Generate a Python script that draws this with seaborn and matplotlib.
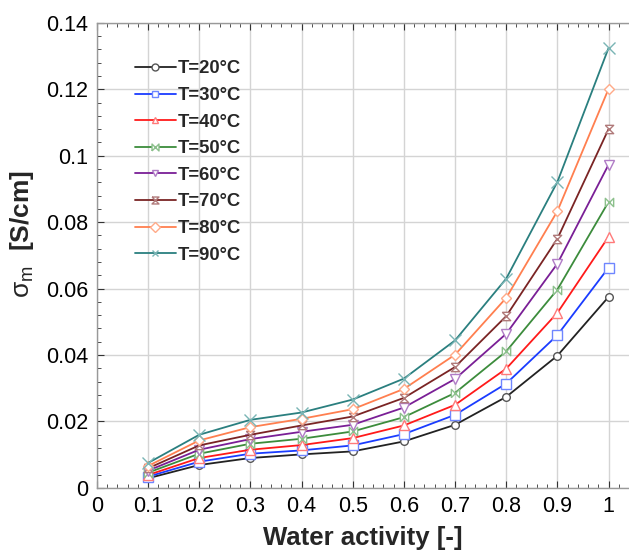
import numpy as np
import pandas as pd
import seaborn as sns
import matplotlib
matplotlib.use("Agg")
import matplotlib.pyplot as plt
from matplotlib.ticker import AutoMinorLocator

# ---- data ----
aw = [0.1, 0.2, 0.3, 0.4, 0.5, 0.6, 0.7, 0.8, 0.9, 1.0]
temps = ["T=20°C", "T=30°C", "T=40°C", "T=50°C", "T=60°C", "T=70°C", "T=80°C", "T=90°C"]
s20 = [0.0029, 0.0069, 0.0090, 0.0101, 0.0110, 0.0140, 0.0190, 0.0274, 0.0398, 0.0575]
s30 = [0.0034, 0.0079, 0.0103, 0.0113, 0.0128, 0.0162, 0.0220, 0.0314, 0.0460, 0.0663]
s40 = [0.0039, 0.0090, 0.0115, 0.0129, 0.0150, 0.0188, 0.0250, 0.0359, 0.0527, 0.0756]
s50 = [0.0046, 0.0103, 0.0133, 0.0148, 0.0170, 0.0213, 0.0286, 0.0411, 0.0597, 0.0861]
s60 = [0.0052, 0.0115, 0.0147, 0.0169, 0.0190, 0.0242, 0.0328, 0.0464, 0.0675, 0.0973]
s70 = [0.0059, 0.0128, 0.0160, 0.0188, 0.0215, 0.0271, 0.0364, 0.0517, 0.0750, 0.1080]
s80 = [0.0066, 0.0143, 0.0183, 0.0208, 0.0237, 0.0298, 0.0401, 0.0572, 0.0833, 0.1201]
s90 = [0.0075, 0.0160, 0.0205, 0.0227, 0.0266, 0.0329, 0.0444, 0.0630, 0.0921, 0.1324]
series = [s20, s30, s40, s50, s60, s70, s80, s90]

x_ticks = [0, 0.1, 0.2, 0.3, 0.4, 0.5, 0.6, 0.7, 0.8, 0.9, 1]
x_ticklabels = ["0", "0.1", "0.2", "0.3", "0.4", "0.5", "0.6", "0.7", "0.8", "0.9", "1"]
y_ticks = [0, 0.02, 0.04, 0.06, 0.08, 0.10, 0.12, 0.14]
y_ticklabels = ["0", "0.02", "0.04", "0.06", "0.08", "0.1", "0.12", "0.14"]

# ---- style ----
line_colors = ["#222222", "#1a3cff", "#ff1a1a", "#3c8c3c", "#7a1f96", "#7a2424", "#ff7f4f", "#2a7f7f"]
marker_colors = ["#555555", "#6f86ff", "#ff7a7a", "#8cc08c", "#b07cc6", "#b07a7a", "#ffaa88", "#7ab5b5"]
bowtie = [(-1, -1), (1, 1), (1, -1), (-1, 1), (-1, -1)]
hourglass = [(-1, 1), (1, 1), (-1, -1), (1, -1), (-1, 1)]
markers = ["o", "s", "^", bowtie, "v", hourglass, "D", "x"]
msizes = [5.5, 6.5, 7, 6, 7, 6, 5.5, 8]

df = pd.DataFrame({
    "aw": np.tile(aw, len(temps)),
    "sigma": np.concatenate(series),
    "T": np.repeat(temps, len(aw)),
})

sns.set_style("white")
plt.rcParams["font.family"] = ["Liberation Sans", "DejaVu Sans"]
plt.rcParams["mathtext.fontset"] = "custom"
plt.rcParams["mathtext.rm"] = "Liberation Sans"
plt.rcParams["mathtext.it"] = "Liberation Sans"

fig = plt.figure(figsize=(6.29, 5.57), dpi=100)
ax = fig.add_axes([0.154, 0.124, 0.846, 0.835])

for i, t in enumerate(temps):
    sub = df[df["T"] == t]
    sns.lineplot(data=sub, x="aw", y="sigma", ax=ax, color=line_colors[i], lw=1.3,
                 marker=markers[i], markersize=msizes[i], markerfacecolor="white",
                 markeredgecolor=marker_colors[i], markeredgewidth=1.0,
                 label=t, zorder=3 + i)

ax.set_xlim(0, 1.04)
ax.set_ylim(0, 0.14)
ax.set_xticks(x_ticks)
ax.set_xticklabels(x_ticklabels)
ax.set_yticks(y_ticks)
ax.set_yticklabels(y_ticklabels)
ax.xaxis.set_minor_locator(AutoMinorLocator(5))
ax.yaxis.set_minor_locator(AutoMinorLocator(5))
ax.tick_params(which="both", direction="in", top=True, right=False, bottom=True, left=True,
               labelsize=15.5, colors="#333333", labelcolor="black", pad=6)
ax.tick_params(which="major", length=5)
ax.tick_params(which="minor", length=3)
ax.grid(True, which="major", color="#d4d4d4", lw=1.0, zorder=0)
for side in ["left", "bottom", "top"]:
    ax.spines[side].set_color("#999999")
    ax.spines[side].set_linewidth(1.0)
ax.spines["right"].set_visible(False)

ax.set_xlabel("Water activity [-]", fontsize=18.5, fontweight="bold", labelpad=6)
ax.set_ylabel(r"$\sigma_{\mathrm{m}}$  [S/cm]", fontsize=19, fontweight="bold")
ax.yaxis.set_label_coords(-0.115, 0.545)

leg = ax.legend(loc="upper left", bbox_to_anchor=(0.058, 0.935), frameon=False,
                fontsize=13.3, handlelength=2.2, handletextpad=0.1, labelspacing=0.52,
                borderaxespad=0)
for txt in leg.get_texts():
    txt.set_fontweight("bold")
for h in leg.legend_handles:
    h.set_markersize(5)

fig.savefig("out.png", dpi=100)
